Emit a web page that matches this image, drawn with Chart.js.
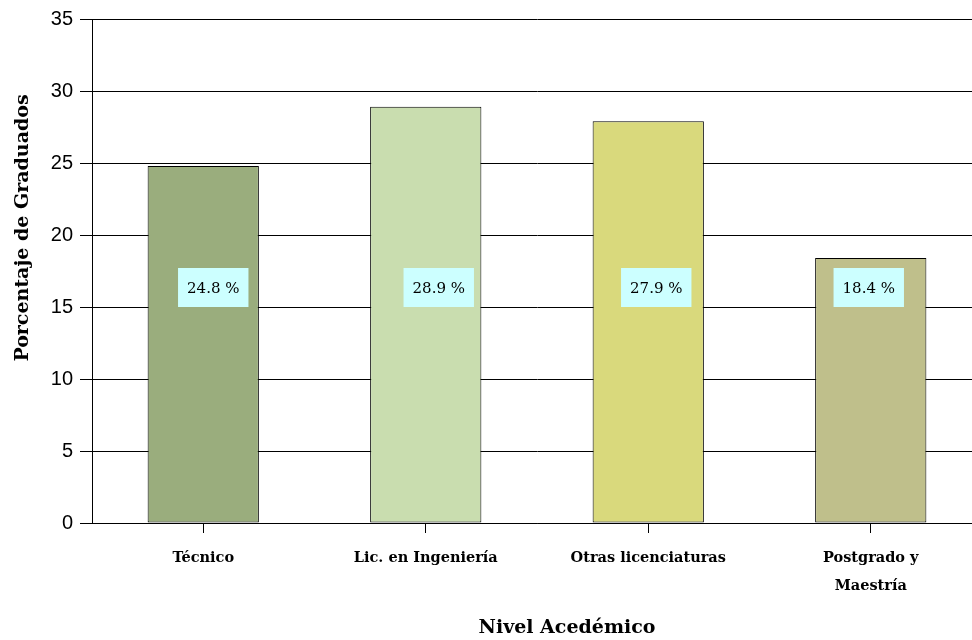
<!DOCTYPE html>
<html>
<head>
<meta charset="utf-8">
<script src="https://cdn.jsdelivr.net/npm/chart.js@4"></script>
<style>
    html, body { margin: 0; padding: 0; background: #fff; overflow: hidden; }
    #wrap { position: absolute; left: 0; top: 0; width: 990px; height: 640px; }
</style>
</head>
<body>
<div id="wrap"><canvas id="gradChart"></canvas></div>
<script>
// ============================================================
// DATA
// ============================================================
const categories = ['Técnico', 'Lic. en Ingeniería', 'Otras licenciaturas', ['Postgrado y', 'Maestría']];
const percentages = [24.8, 28.9, 27.9, 18.4];
const barColors = ['#9aad7d', '#c9ddaf', '#d9d97c', '#bfbf8b'];
const yTicks = [0, 5, 10, 15, 20, 25, 30, 35];
const labelBase = 15; // value where the label boxes sit
const yTitle = 'Porcentaje de Graduados';
const xTitle = 'Nivel Acedémico';

const serif = '"DejaVu Serif", serif';
const labelShift = [10, 13, 8, -2]; // px nudge of each label box

// Label boxes (cyan) drawn over each bar
const valueBoxes = {
    id: 'valueBoxes',
    afterDatasetsDraw(chart) {
        const ctx = chart.ctx;
        const meta = chart.getDatasetMeta(0);
        const yBottom = chart.scales.y.getPixelForValue(labelBase);
        ctx.save();
        ctx.font = '15px ' + serif;
        ctx.textAlign = 'center';
        ctx.textBaseline = 'middle';
        meta.data.forEach((bar, i) => {
            const text = percentages[i].toFixed(1) + ' %';
            const w = ctx.measureText(text).width + 18;
            const h = 39;
            const cx = bar.x + labelShift[i];
            ctx.fillStyle = '#ccffff';
            ctx.fillRect(cx - w / 2, yBottom - h, w, h);
            ctx.fillStyle = '#000';
            ctx.fillText(text, cx, yBottom - h / 2 + 2);
        });
        ctx.restore();
    }
};

// Axis titles (placed off-centre like the original)
const axisTitles = {
    id: 'axisTitles',
    afterDraw(chart) {
        const ctx = chart.ctx;
        ctx.save();
        ctx.fillStyle = '#000';
        ctx.textAlign = 'center';
        ctx.textBaseline = 'middle';
        ctx.font = 'bold 19px ' + serif;
        ctx.fillText(xTitle, 567, 628);
        ctx.translate(23, 228);
        ctx.rotate(-Math.PI / 2);
        ctx.font = 'bold 19px ' + serif;
        ctx.fillText(yTitle, 0, 0);
        ctx.restore();
    }
};

const ctx = document.getElementById('gradChart');
new Chart(ctx, {
    type: 'bar',
    data: {
        labels: categories,
        datasets: [{
            data: percentages,
            backgroundColor: barColors,
            borderColor: '#000',
            borderWidth: 1,
            borderSkipped: false,
            barPercentage: 0.5,
            categoryPercentage: 1
        }]
    },
    options: {
        responsive: true,
        maintainAspectRatio: false,
        animation: false,
        layout: { padding: { top: 18, right: 8, left: 0, bottom: 0 } },
        plugins: {
            legend: { display: false },
            tooltip: { enabled: false }
        },
        scales: {
            x: {
                grid: { drawOnChartArea: false, drawTicks: true, tickLength: 10, color: '#000', offset: false },
                border: { color: '#000', width: 1 },
                ticks: { color: '#000', padding: 11, font: { family: serif, size: 14.5, weight: 'bold', lineHeight: 1.95 }, maxRotation: 0, autoSkip: false },
                afterFit: s => { s.height = 117; }
            },
            y: {
                min: 0,
                max: 35,
                afterBuildTicks: s => { s.ticks = yTicks.map(v => ({ value: v })); },
                grid: { color: '#000', tickLength: 12, lineWidth: 1 },
                border: { color: '#000', width: 1 },
                ticks: { color: '#000', padding: 7, font: { family: '"Liberation Sans", Arial, sans-serif', size: 20 } },
                afterFit: s => { s.width = 92; }
            }
        }
    },
    plugins: [valueBoxes, axisTitles]
});
</script>
</body>
</html>
